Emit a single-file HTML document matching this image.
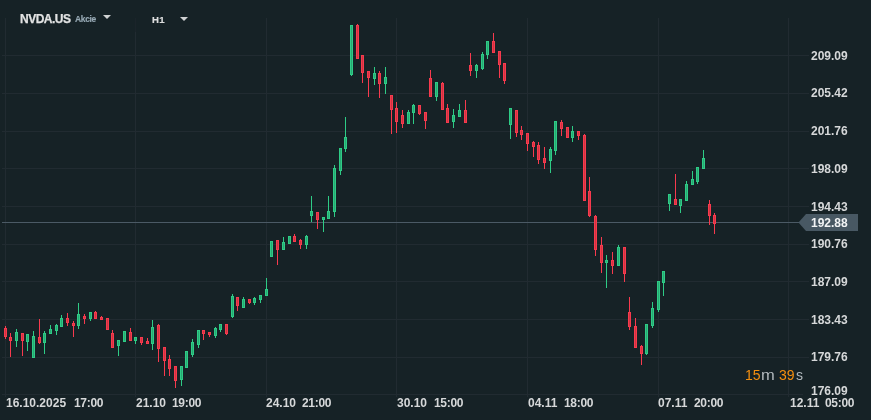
<!DOCTYPE html>
<html><head><meta charset="utf-8"><style>
html,body{margin:0;padding:0;}
body{width:871px;height:420px;overflow:hidden;background:#162226;position:relative;font-family:"Liberation Sans",Arial,sans-serif;}
svg{position:absolute;left:0;top:0;}
div{will-change:transform;}
.pl,.tl,#cur{font-weight:bold;}
.pl{position:absolute;left:810.5px;font-size:12px;line-height:14px;color:#d6d8d9;white-space:nowrap;}
.tl{position:absolute;top:396px;font-size:12px;line-height:14px;color:#d6d8d9;white-space:nowrap;}
.tt{letter-spacing:-0.3px;}
#sym{position:absolute;left:20px;top:11.5px;font-size:12px;letter-spacing:-0.5px;line-height:14px;font-weight:bold;-webkit-text-stroke:0.25px #e2e3e3;color:#e2e3e3;white-space:nowrap;}
#ak{position:absolute;left:74.7px;top:14px;font-size:8.5px;letter-spacing:-0.35px;line-height:10px;font-weight:bold;color:#96a8b3;-webkit-text-stroke:0.15px #96a8b3;}
#tf{position:absolute;left:152.3px;top:14.3px;font-size:9.6px;letter-spacing:0.2px;line-height:11px;font-weight:bold;color:#dcdddd;-webkit-text-stroke:0.2px #dcdddd;}
#cur{position:absolute;left:810.5px;top:215.5px;font-size:12px;line-height:14px;color:#f2f4f5;}
.cd{position:absolute;top:367px;font-size:14px;line-height:16px;white-space:nowrap;}
.o{color:#f58f0f;} .g{color:#b2b9bd;}
</style></head><body>
<svg width="871" height="420" viewBox="0 0 871 420" shape-rendering="crispEdges">
<rect x="2" y="55" width="807" height="1" fill="#212b31"/>
<rect x="2" y="93" width="807" height="1" fill="#212b31"/>
<rect x="2" y="131" width="807" height="1" fill="#212b31"/>
<rect x="2" y="168" width="807" height="1" fill="#212b31"/>
<rect x="2" y="206" width="807" height="1" fill="#212b31"/>
<rect x="2" y="244" width="807" height="1" fill="#212b31"/>
<rect x="2" y="281" width="807" height="1" fill="#212b31"/>
<rect x="2" y="319" width="807" height="1" fill="#212b31"/>
<rect x="2" y="357" width="807" height="1" fill="#212b31"/>
<rect x="2" y="394" width="801" height="1" fill="#212b31"/>
<rect x="5" y="18" width="1" height="379" fill="#212b31"/>
<rect x="135" y="32" width="1" height="365" fill="#212b31"/>
<rect x="266" y="18" width="1" height="379" fill="#212b31"/>
<rect x="396" y="18" width="1" height="379" fill="#212b31"/>
<rect x="527" y="18" width="1" height="379" fill="#212b31"/>
<rect x="658" y="18" width="1" height="379" fill="#212b31"/>
<rect x="788" y="18" width="1" height="379" fill="#212b31"/>
<rect x="135" y="18" width="1" height="14" fill="#1b242a"/>
<rect x="2" y="222" width="797" height="1" fill="#4b5a65"/>
<rect x="5" y="326" width="1" height="13" fill="#f83a4e"/>
<rect x="4" y="328" width="3" height="9" fill="#f83a4e"/>
<rect x="5" y="329" width="1" height="7" fill="#d03441"/>
<rect x="10" y="333" width="1" height="24" fill="#f83a4e"/>
<rect x="9" y="337" width="3" height="4" fill="#f83a4e"/>
<rect x="10" y="338" width="1" height="2" fill="#d03441"/>
<rect x="16" y="329" width="1" height="18" fill="#2ecc86"/>
<rect x="15" y="332" width="3" height="9" fill="#2ecc86"/>
<rect x="16" y="333" width="1" height="7" fill="#28a873"/>
<rect x="22" y="333" width="1" height="23" fill="#f83a4e"/>
<rect x="21" y="333" width="3" height="8" fill="#f83a4e"/>
<rect x="22" y="334" width="1" height="6" fill="#d03441"/>
<rect x="27" y="334" width="1" height="17" fill="#2ecc86"/>
<rect x="26" y="334" width="3" height="8" fill="#2ecc86"/>
<rect x="27" y="335" width="1" height="6" fill="#28a873"/>
<rect x="33" y="331" width="1" height="27" fill="#2ecc86"/>
<rect x="32" y="336" width="3" height="22" fill="#2ecc86"/>
<rect x="33" y="337" width="1" height="20" fill="#28a873"/>
<rect x="39" y="319" width="1" height="25" fill="#f83a4e"/>
<rect x="38" y="337" width="3" height="6" fill="#f83a4e"/>
<rect x="39" y="338" width="1" height="4" fill="#d03441"/>
<rect x="44" y="331" width="1" height="23" fill="#2ecc86"/>
<rect x="43" y="333" width="3" height="10" fill="#2ecc86"/>
<rect x="44" y="334" width="1" height="8" fill="#28a873"/>
<rect x="50" y="325" width="1" height="9" fill="#2ecc86"/>
<rect x="49" y="329" width="3" height="5" fill="#2ecc86"/>
<rect x="50" y="330" width="1" height="3" fill="#28a873"/>
<rect x="56" y="324" width="1" height="11" fill="#2ecc86"/>
<rect x="55" y="325" width="3" height="6" fill="#2ecc86"/>
<rect x="56" y="326" width="1" height="4" fill="#28a873"/>
<rect x="61" y="315" width="1" height="12" fill="#2ecc86"/>
<rect x="60" y="318" width="3" height="9" fill="#2ecc86"/>
<rect x="61" y="319" width="1" height="7" fill="#28a873"/>
<rect x="67" y="313" width="1" height="13" fill="#f83a4e"/>
<rect x="66" y="318" width="3" height="5" fill="#f83a4e"/>
<rect x="67" y="319" width="1" height="3" fill="#d03441"/>
<rect x="73" y="321" width="1" height="16" fill="#f83a4e"/>
<rect x="72" y="323" width="3" height="3" fill="#f83a4e"/>
<rect x="73" y="324" width="1" height="1" fill="#d03441"/>
<rect x="78" y="303" width="1" height="26" fill="#2ecc86"/>
<rect x="77" y="314" width="3" height="12" fill="#2ecc86"/>
<rect x="78" y="315" width="1" height="10" fill="#28a873"/>
<rect x="84" y="314" width="1" height="10" fill="#f83a4e"/>
<rect x="83" y="316" width="3" height="3" fill="#f83a4e"/>
<rect x="84" y="317" width="1" height="1" fill="#d03441"/>
<rect x="90" y="312" width="1" height="9" fill="#2ecc86"/>
<rect x="89" y="312" width="3" height="7" fill="#2ecc86"/>
<rect x="90" y="313" width="1" height="5" fill="#28a873"/>
<rect x="95" y="311" width="1" height="8" fill="#f83a4e"/>
<rect x="94" y="312" width="3" height="7" fill="#f83a4e"/>
<rect x="95" y="313" width="1" height="5" fill="#d03441"/>
<rect x="101" y="316" width="1" height="4" fill="#f83a4e"/>
<rect x="100" y="317" width="3" height="3" fill="#f83a4e"/>
<rect x="101" y="318" width="1" height="1" fill="#d03441"/>
<rect x="107" y="318" width="1" height="12" fill="#f83a4e"/>
<rect x="106" y="318" width="3" height="12" fill="#f83a4e"/>
<rect x="107" y="319" width="1" height="10" fill="#d03441"/>
<rect x="112" y="330" width="1" height="18" fill="#f83a4e"/>
<rect x="111" y="333" width="3" height="15" fill="#f83a4e"/>
<rect x="112" y="334" width="1" height="13" fill="#d03441"/>
<rect x="118" y="340" width="1" height="16" fill="#2ecc86"/>
<rect x="117" y="340" width="3" height="6" fill="#2ecc86"/>
<rect x="118" y="341" width="1" height="4" fill="#28a873"/>
<rect x="124" y="331" width="1" height="11" fill="#2ecc86"/>
<rect x="123" y="331" width="3" height="11" fill="#2ecc86"/>
<rect x="124" y="332" width="1" height="9" fill="#28a873"/>
<rect x="130" y="328" width="1" height="13" fill="#f83a4e"/>
<rect x="129" y="332" width="3" height="9" fill="#f83a4e"/>
<rect x="130" y="333" width="1" height="7" fill="#d03441"/>
<rect x="135" y="337" width="1" height="7" fill="#2ecc86"/>
<rect x="134" y="337" width="3" height="4" fill="#2ecc86"/>
<rect x="135" y="338" width="1" height="2" fill="#28a873"/>
<rect x="141" y="337" width="1" height="8" fill="#f83a4e"/>
<rect x="140" y="337" width="3" height="6" fill="#f83a4e"/>
<rect x="141" y="338" width="1" height="4" fill="#d03441"/>
<rect x="147" y="338" width="1" height="6" fill="#f83a4e"/>
<rect x="146" y="341" width="3" height="3" fill="#f83a4e"/>
<rect x="147" y="342" width="1" height="1" fill="#d03441"/>
<rect x="152" y="320" width="1" height="30" fill="#2ecc86"/>
<rect x="151" y="327" width="3" height="17" fill="#2ecc86"/>
<rect x="152" y="328" width="1" height="15" fill="#28a873"/>
<rect x="158" y="324" width="1" height="38" fill="#f83a4e"/>
<rect x="157" y="325" width="3" height="24" fill="#f83a4e"/>
<rect x="158" y="326" width="1" height="22" fill="#d03441"/>
<rect x="164" y="347" width="1" height="29" fill="#f83a4e"/>
<rect x="163" y="347" width="3" height="14" fill="#f83a4e"/>
<rect x="164" y="348" width="1" height="12" fill="#d03441"/>
<rect x="169" y="355" width="1" height="21" fill="#f83a4e"/>
<rect x="168" y="359" width="3" height="10" fill="#f83a4e"/>
<rect x="169" y="360" width="1" height="8" fill="#d03441"/>
<rect x="175" y="366" width="1" height="22" fill="#f83a4e"/>
<rect x="174" y="366" width="3" height="15" fill="#f83a4e"/>
<rect x="175" y="367" width="1" height="13" fill="#d03441"/>
<rect x="181" y="366" width="1" height="20" fill="#2ecc86"/>
<rect x="180" y="366" width="3" height="14" fill="#2ecc86"/>
<rect x="181" y="367" width="1" height="12" fill="#28a873"/>
<rect x="186" y="351" width="1" height="17" fill="#2ecc86"/>
<rect x="185" y="351" width="3" height="17" fill="#2ecc86"/>
<rect x="186" y="352" width="1" height="15" fill="#28a873"/>
<rect x="192" y="339" width="1" height="18" fill="#2ecc86"/>
<rect x="191" y="342" width="3" height="13" fill="#2ecc86"/>
<rect x="192" y="343" width="1" height="11" fill="#28a873"/>
<rect x="198" y="330" width="1" height="18" fill="#2ecc86"/>
<rect x="197" y="330" width="3" height="15" fill="#2ecc86"/>
<rect x="198" y="331" width="1" height="13" fill="#28a873"/>
<rect x="203" y="330" width="1" height="10" fill="#f83a4e"/>
<rect x="202" y="330" width="3" height="4" fill="#f83a4e"/>
<rect x="203" y="331" width="1" height="2" fill="#d03441"/>
<rect x="209" y="332" width="1" height="5" fill="#f83a4e"/>
<rect x="208" y="332" width="3" height="3" fill="#f83a4e"/>
<rect x="209" y="333" width="1" height="1" fill="#d03441"/>
<rect x="215" y="327" width="1" height="11" fill="#2ecc86"/>
<rect x="214" y="328" width="3" height="8" fill="#2ecc86"/>
<rect x="215" y="329" width="1" height="6" fill="#28a873"/>
<rect x="220" y="324" width="1" height="8" fill="#2ecc86"/>
<rect x="219" y="324" width="3" height="6" fill="#2ecc86"/>
<rect x="220" y="325" width="1" height="4" fill="#28a873"/>
<rect x="226" y="324" width="1" height="11" fill="#f83a4e"/>
<rect x="225" y="324" width="3" height="10" fill="#f83a4e"/>
<rect x="226" y="325" width="1" height="8" fill="#d03441"/>
<rect x="232" y="294" width="1" height="24" fill="#2ecc86"/>
<rect x="231" y="296" width="3" height="21" fill="#2ecc86"/>
<rect x="232" y="297" width="1" height="19" fill="#28a873"/>
<rect x="237" y="297" width="1" height="14" fill="#f83a4e"/>
<rect x="236" y="297" width="3" height="9" fill="#f83a4e"/>
<rect x="237" y="298" width="1" height="7" fill="#d03441"/>
<rect x="243" y="297" width="1" height="11" fill="#2ecc86"/>
<rect x="242" y="299" width="3" height="9" fill="#2ecc86"/>
<rect x="243" y="300" width="1" height="7" fill="#28a873"/>
<rect x="249" y="299" width="1" height="5" fill="#f83a4e"/>
<rect x="248" y="299" width="3" height="4" fill="#f83a4e"/>
<rect x="249" y="300" width="1" height="2" fill="#d03441"/>
<rect x="254" y="297" width="1" height="8" fill="#2ecc86"/>
<rect x="253" y="298" width="3" height="5" fill="#2ecc86"/>
<rect x="254" y="299" width="1" height="3" fill="#28a873"/>
<rect x="260" y="295" width="1" height="8" fill="#2ecc86"/>
<rect x="259" y="295" width="3" height="5" fill="#2ecc86"/>
<rect x="260" y="296" width="1" height="3" fill="#28a873"/>
<rect x="266" y="278" width="1" height="18" fill="#2ecc86"/>
<rect x="265" y="289" width="3" height="7" fill="#2ecc86"/>
<rect x="266" y="290" width="1" height="5" fill="#28a873"/>
<rect x="271" y="241" width="1" height="16" fill="#2ecc86"/>
<rect x="270" y="241" width="3" height="16" fill="#2ecc86"/>
<rect x="271" y="242" width="1" height="14" fill="#28a873"/>
<rect x="277" y="240" width="1" height="25" fill="#f83a4e"/>
<rect x="276" y="240" width="3" height="10" fill="#f83a4e"/>
<rect x="277" y="241" width="1" height="8" fill="#d03441"/>
<rect x="283" y="237" width="1" height="13" fill="#2ecc86"/>
<rect x="282" y="242" width="3" height="8" fill="#2ecc86"/>
<rect x="283" y="243" width="1" height="6" fill="#28a873"/>
<rect x="289" y="236" width="1" height="8" fill="#2ecc86"/>
<rect x="288" y="236" width="3" height="8" fill="#2ecc86"/>
<rect x="289" y="237" width="1" height="6" fill="#28a873"/>
<rect x="294" y="234" width="1" height="8" fill="#f83a4e"/>
<rect x="293" y="236" width="3" height="6" fill="#f83a4e"/>
<rect x="294" y="237" width="1" height="4" fill="#d03441"/>
<rect x="300" y="239" width="1" height="10" fill="#f83a4e"/>
<rect x="299" y="240" width="3" height="5" fill="#f83a4e"/>
<rect x="300" y="241" width="1" height="3" fill="#d03441"/>
<rect x="306" y="235" width="1" height="14" fill="#2ecc86"/>
<rect x="305" y="236" width="3" height="9" fill="#2ecc86"/>
<rect x="306" y="237" width="1" height="7" fill="#28a873"/>
<rect x="311" y="196" width="1" height="26" fill="#2ecc86"/>
<rect x="310" y="211" width="3" height="5" fill="#2ecc86"/>
<rect x="311" y="212" width="1" height="3" fill="#28a873"/>
<rect x="317" y="212" width="1" height="17" fill="#f83a4e"/>
<rect x="316" y="212" width="3" height="8" fill="#f83a4e"/>
<rect x="317" y="213" width="1" height="6" fill="#d03441"/>
<rect x="323" y="217" width="1" height="15" fill="#2ecc86"/>
<rect x="322" y="217" width="3" height="3" fill="#2ecc86"/>
<rect x="323" y="218" width="1" height="1" fill="#28a873"/>
<rect x="328" y="196" width="1" height="23" fill="#2ecc86"/>
<rect x="327" y="211" width="3" height="8" fill="#2ecc86"/>
<rect x="328" y="212" width="1" height="6" fill="#28a873"/>
<rect x="334" y="165" width="1" height="52" fill="#2ecc86"/>
<rect x="333" y="168" width="3" height="44" fill="#2ecc86"/>
<rect x="334" y="169" width="1" height="42" fill="#28a873"/>
<rect x="340" y="148" width="1" height="27" fill="#2ecc86"/>
<rect x="339" y="148" width="3" height="23" fill="#2ecc86"/>
<rect x="340" y="149" width="1" height="21" fill="#28a873"/>
<rect x="345" y="117" width="1" height="35" fill="#2ecc86"/>
<rect x="344" y="137" width="3" height="12" fill="#2ecc86"/>
<rect x="345" y="138" width="1" height="10" fill="#28a873"/>
<rect x="351" y="25" width="1" height="51" fill="#2ecc86"/>
<rect x="350" y="25" width="3" height="50" fill="#2ecc86"/>
<rect x="351" y="26" width="1" height="48" fill="#28a873"/>
<rect x="357" y="24" width="1" height="35" fill="#f83a4e"/>
<rect x="356" y="25" width="3" height="34" fill="#f83a4e"/>
<rect x="357" y="26" width="1" height="32" fill="#d03441"/>
<rect x="362" y="55" width="1" height="28" fill="#f83a4e"/>
<rect x="361" y="55" width="3" height="18" fill="#f83a4e"/>
<rect x="362" y="56" width="1" height="16" fill="#d03441"/>
<rect x="368" y="71" width="1" height="26" fill="#f83a4e"/>
<rect x="367" y="71" width="3" height="7" fill="#f83a4e"/>
<rect x="368" y="72" width="1" height="5" fill="#d03441"/>
<rect x="374" y="67" width="1" height="18" fill="#2ecc86"/>
<rect x="373" y="73" width="3" height="6" fill="#2ecc86"/>
<rect x="374" y="74" width="1" height="4" fill="#28a873"/>
<rect x="379" y="71" width="1" height="27" fill="#f83a4e"/>
<rect x="378" y="73" width="3" height="11" fill="#f83a4e"/>
<rect x="379" y="74" width="1" height="9" fill="#d03441"/>
<rect x="385" y="67" width="1" height="27" fill="#2ecc86"/>
<rect x="384" y="77" width="3" height="7" fill="#2ecc86"/>
<rect x="385" y="78" width="1" height="5" fill="#28a873"/>
<rect x="391" y="95" width="1" height="39" fill="#f83a4e"/>
<rect x="390" y="95" width="3" height="15" fill="#f83a4e"/>
<rect x="391" y="96" width="1" height="13" fill="#d03441"/>
<rect x="396" y="102" width="1" height="31" fill="#f83a4e"/>
<rect x="395" y="108" width="3" height="14" fill="#f83a4e"/>
<rect x="396" y="109" width="1" height="12" fill="#d03441"/>
<rect x="402" y="110" width="1" height="18" fill="#f83a4e"/>
<rect x="401" y="115" width="3" height="9" fill="#f83a4e"/>
<rect x="402" y="116" width="1" height="7" fill="#d03441"/>
<rect x="408" y="110" width="1" height="14" fill="#2ecc86"/>
<rect x="407" y="112" width="3" height="12" fill="#2ecc86"/>
<rect x="408" y="113" width="1" height="10" fill="#28a873"/>
<rect x="413" y="104" width="1" height="20" fill="#2ecc86"/>
<rect x="412" y="105" width="3" height="8" fill="#2ecc86"/>
<rect x="413" y="106" width="1" height="6" fill="#28a873"/>
<rect x="419" y="105" width="1" height="10" fill="#f83a4e"/>
<rect x="418" y="105" width="3" height="9" fill="#f83a4e"/>
<rect x="419" y="106" width="1" height="7" fill="#d03441"/>
<rect x="425" y="112" width="1" height="17" fill="#f83a4e"/>
<rect x="424" y="112" width="3" height="9" fill="#f83a4e"/>
<rect x="425" y="113" width="1" height="7" fill="#d03441"/>
<rect x="430" y="70" width="1" height="27" fill="#f83a4e"/>
<rect x="429" y="78" width="3" height="19" fill="#f83a4e"/>
<rect x="430" y="79" width="1" height="17" fill="#d03441"/>
<rect x="436" y="82" width="1" height="19" fill="#2ecc86"/>
<rect x="435" y="82" width="3" height="15" fill="#2ecc86"/>
<rect x="436" y="83" width="1" height="13" fill="#28a873"/>
<rect x="442" y="82" width="1" height="28" fill="#f83a4e"/>
<rect x="441" y="83" width="3" height="27" fill="#f83a4e"/>
<rect x="442" y="84" width="1" height="25" fill="#d03441"/>
<rect x="447" y="104" width="1" height="19" fill="#f83a4e"/>
<rect x="446" y="108" width="3" height="15" fill="#f83a4e"/>
<rect x="447" y="109" width="1" height="13" fill="#d03441"/>
<rect x="453" y="109" width="1" height="19" fill="#2ecc86"/>
<rect x="452" y="115" width="3" height="7" fill="#2ecc86"/>
<rect x="453" y="116" width="1" height="5" fill="#28a873"/>
<rect x="459" y="104" width="1" height="13" fill="#2ecc86"/>
<rect x="458" y="110" width="3" height="7" fill="#2ecc86"/>
<rect x="459" y="111" width="1" height="5" fill="#28a873"/>
<rect x="465" y="100" width="1" height="23" fill="#f83a4e"/>
<rect x="464" y="110" width="3" height="13" fill="#f83a4e"/>
<rect x="465" y="111" width="1" height="11" fill="#d03441"/>
<rect x="470" y="53" width="1" height="23" fill="#f83a4e"/>
<rect x="469" y="65" width="3" height="6" fill="#f83a4e"/>
<rect x="470" y="66" width="1" height="4" fill="#d03441"/>
<rect x="476" y="64" width="1" height="14" fill="#2ecc86"/>
<rect x="475" y="65" width="3" height="6" fill="#2ecc86"/>
<rect x="476" y="66" width="1" height="4" fill="#28a873"/>
<rect x="482" y="52" width="1" height="18" fill="#2ecc86"/>
<rect x="481" y="54" width="3" height="15" fill="#2ecc86"/>
<rect x="482" y="55" width="1" height="13" fill="#28a873"/>
<rect x="487" y="41" width="1" height="18" fill="#2ecc86"/>
<rect x="486" y="41" width="3" height="14" fill="#2ecc86"/>
<rect x="487" y="42" width="1" height="12" fill="#28a873"/>
<rect x="493" y="33" width="1" height="20" fill="#f83a4e"/>
<rect x="492" y="41" width="3" height="12" fill="#f83a4e"/>
<rect x="493" y="42" width="1" height="10" fill="#d03441"/>
<rect x="499" y="51" width="1" height="27" fill="#f83a4e"/>
<rect x="498" y="51" width="3" height="14" fill="#f83a4e"/>
<rect x="499" y="52" width="1" height="12" fill="#d03441"/>
<rect x="504" y="63" width="1" height="21" fill="#f83a4e"/>
<rect x="503" y="63" width="3" height="18" fill="#f83a4e"/>
<rect x="504" y="64" width="1" height="16" fill="#d03441"/>
<rect x="510" y="108" width="1" height="31" fill="#2ecc86"/>
<rect x="509" y="108" width="3" height="17" fill="#2ecc86"/>
<rect x="510" y="109" width="1" height="15" fill="#28a873"/>
<rect x="516" y="110" width="1" height="27" fill="#f83a4e"/>
<rect x="515" y="110" width="3" height="23" fill="#f83a4e"/>
<rect x="516" y="111" width="1" height="21" fill="#d03441"/>
<rect x="521" y="126" width="1" height="14" fill="#f83a4e"/>
<rect x="520" y="130" width="3" height="5" fill="#f83a4e"/>
<rect x="521" y="131" width="1" height="3" fill="#d03441"/>
<rect x="527" y="133" width="1" height="18" fill="#f83a4e"/>
<rect x="526" y="133" width="3" height="11" fill="#f83a4e"/>
<rect x="527" y="134" width="1" height="9" fill="#d03441"/>
<rect x="533" y="141" width="1" height="16" fill="#f83a4e"/>
<rect x="532" y="142" width="3" height="5" fill="#f83a4e"/>
<rect x="533" y="143" width="1" height="3" fill="#d03441"/>
<rect x="538" y="142" width="1" height="22" fill="#f83a4e"/>
<rect x="537" y="145" width="3" height="15" fill="#f83a4e"/>
<rect x="538" y="146" width="1" height="13" fill="#d03441"/>
<rect x="544" y="147" width="1" height="22" fill="#f83a4e"/>
<rect x="543" y="158" width="3" height="5" fill="#f83a4e"/>
<rect x="544" y="159" width="1" height="3" fill="#d03441"/>
<rect x="550" y="147" width="1" height="26" fill="#2ecc86"/>
<rect x="549" y="149" width="3" height="12" fill="#2ecc86"/>
<rect x="550" y="150" width="1" height="10" fill="#28a873"/>
<rect x="555" y="121" width="1" height="34" fill="#2ecc86"/>
<rect x="554" y="121" width="3" height="30" fill="#2ecc86"/>
<rect x="555" y="122" width="1" height="28" fill="#28a873"/>
<rect x="561" y="120" width="1" height="16" fill="#f83a4e"/>
<rect x="560" y="122" width="3" height="7" fill="#f83a4e"/>
<rect x="561" y="123" width="1" height="5" fill="#d03441"/>
<rect x="567" y="127" width="1" height="11" fill="#f83a4e"/>
<rect x="566" y="127" width="3" height="11" fill="#f83a4e"/>
<rect x="567" y="128" width="1" height="9" fill="#d03441"/>
<rect x="572" y="126" width="1" height="16" fill="#2ecc86"/>
<rect x="571" y="131" width="3" height="7" fill="#2ecc86"/>
<rect x="572" y="132" width="1" height="5" fill="#28a873"/>
<rect x="578" y="131" width="1" height="9" fill="#f83a4e"/>
<rect x="577" y="131" width="3" height="5" fill="#f83a4e"/>
<rect x="578" y="132" width="1" height="3" fill="#d03441"/>
<rect x="584" y="134" width="1" height="67" fill="#f83a4e"/>
<rect x="583" y="135" width="3" height="66" fill="#f83a4e"/>
<rect x="584" y="136" width="1" height="64" fill="#d03441"/>
<rect x="589" y="177" width="1" height="40" fill="#f83a4e"/>
<rect x="588" y="191" width="3" height="25" fill="#f83a4e"/>
<rect x="589" y="192" width="1" height="23" fill="#d03441"/>
<rect x="595" y="215" width="1" height="41" fill="#f83a4e"/>
<rect x="594" y="216" width="3" height="34" fill="#f83a4e"/>
<rect x="595" y="217" width="1" height="32" fill="#d03441"/>
<rect x="601" y="237" width="1" height="36" fill="#f83a4e"/>
<rect x="600" y="245" width="3" height="18" fill="#f83a4e"/>
<rect x="601" y="246" width="1" height="16" fill="#d03441"/>
<rect x="606" y="255" width="1" height="33" fill="#2ecc86"/>
<rect x="605" y="260" width="3" height="3" fill="#2ecc86"/>
<rect x="606" y="261" width="1" height="1" fill="#28a873"/>
<rect x="612" y="252" width="1" height="22" fill="#f83a4e"/>
<rect x="611" y="260" width="3" height="6" fill="#f83a4e"/>
<rect x="612" y="261" width="1" height="4" fill="#d03441"/>
<rect x="618" y="245" width="1" height="21" fill="#2ecc86"/>
<rect x="617" y="247" width="3" height="19" fill="#2ecc86"/>
<rect x="618" y="248" width="1" height="17" fill="#28a873"/>
<rect x="624" y="247" width="1" height="35" fill="#f83a4e"/>
<rect x="623" y="247" width="3" height="27" fill="#f83a4e"/>
<rect x="624" y="248" width="1" height="25" fill="#d03441"/>
<rect x="629" y="297" width="1" height="33" fill="#f83a4e"/>
<rect x="628" y="312" width="3" height="15" fill="#f83a4e"/>
<rect x="629" y="313" width="1" height="13" fill="#d03441"/>
<rect x="635" y="318" width="1" height="30" fill="#f83a4e"/>
<rect x="634" y="326" width="3" height="22" fill="#f83a4e"/>
<rect x="635" y="327" width="1" height="20" fill="#d03441"/>
<rect x="641" y="345" width="1" height="20" fill="#f83a4e"/>
<rect x="640" y="346" width="3" height="8" fill="#f83a4e"/>
<rect x="641" y="347" width="1" height="6" fill="#d03441"/>
<rect x="646" y="324" width="1" height="31" fill="#2ecc86"/>
<rect x="645" y="324" width="3" height="30" fill="#2ecc86"/>
<rect x="646" y="325" width="1" height="28" fill="#28a873"/>
<rect x="652" y="302" width="1" height="26" fill="#2ecc86"/>
<rect x="651" y="308" width="3" height="18" fill="#2ecc86"/>
<rect x="652" y="309" width="1" height="16" fill="#28a873"/>
<rect x="658" y="281" width="1" height="31" fill="#2ecc86"/>
<rect x="657" y="281" width="3" height="29" fill="#2ecc86"/>
<rect x="658" y="282" width="1" height="27" fill="#28a873"/>
<rect x="663" y="271" width="1" height="25" fill="#2ecc86"/>
<rect x="662" y="271" width="3" height="12" fill="#2ecc86"/>
<rect x="663" y="272" width="1" height="10" fill="#28a873"/>
<rect x="669" y="194" width="1" height="17" fill="#2ecc86"/>
<rect x="668" y="194" width="3" height="10" fill="#2ecc86"/>
<rect x="669" y="195" width="1" height="8" fill="#28a873"/>
<rect x="675" y="174" width="1" height="31" fill="#f83a4e"/>
<rect x="674" y="199" width="3" height="6" fill="#f83a4e"/>
<rect x="675" y="200" width="1" height="4" fill="#d03441"/>
<rect x="680" y="199" width="1" height="14" fill="#2ecc86"/>
<rect x="679" y="199" width="3" height="7" fill="#2ecc86"/>
<rect x="680" y="200" width="1" height="5" fill="#28a873"/>
<rect x="686" y="181" width="1" height="20" fill="#2ecc86"/>
<rect x="685" y="184" width="3" height="17" fill="#2ecc86"/>
<rect x="686" y="185" width="1" height="15" fill="#28a873"/>
<rect x="692" y="171" width="1" height="14" fill="#2ecc86"/>
<rect x="691" y="179" width="3" height="6" fill="#2ecc86"/>
<rect x="692" y="180" width="1" height="4" fill="#28a873"/>
<rect x="697" y="167" width="1" height="17" fill="#2ecc86"/>
<rect x="696" y="167" width="3" height="15" fill="#2ecc86"/>
<rect x="697" y="168" width="1" height="13" fill="#28a873"/>
<rect x="703" y="150" width="1" height="19" fill="#2ecc86"/>
<rect x="702" y="158" width="3" height="11" fill="#2ecc86"/>
<rect x="703" y="159" width="1" height="9" fill="#28a873"/>
<rect x="709" y="200" width="1" height="25" fill="#f83a4e"/>
<rect x="708" y="204" width="3" height="12" fill="#f83a4e"/>
<rect x="709" y="205" width="1" height="10" fill="#d03441"/>
<rect x="714" y="213" width="1" height="21" fill="#f83a4e"/>
<rect x="713" y="215" width="3" height="9" fill="#f83a4e"/>
<rect x="714" y="216" width="1" height="7" fill="#d03441"/>
<polygon points="798.5,222.5 806,214 858,214 858,231 806,231" fill="#485863" shape-rendering="auto"/>
<polygon points="103,15 111,15 107,19" fill="#d0d2d3" shape-rendering="auto"/>
<polygon points="180,17 188,17 184,21" fill="#d0d2d3" shape-rendering="auto"/>
</svg>
<div id="sym">NVDA.US</div><div id="ak">Akcie</div><div id="tf">H1</div>
<div class="pl" style="top:49px">209.09</div>
<div class="pl" style="top:86px">205.42</div>
<div class="pl" style="top:124px">201.76</div>
<div class="pl" style="top:162px">198.09</div>
<div class="pl" style="top:200px">194.43</div>
<div class="pl" style="top:237px">190.76</div>
<div class="pl" style="top:275px">187.09</div>
<div class="pl" style="top:313px">183.43</div>
<div class="pl" style="top:350px">179.76</div>
<div class="pl" style="top:383.7px">176.09</div>
<div class="tl" style="left:6.1px">16.10.2025</div><div class="tl tt" style="left:74.0px">17:00</div>
<div class="tl" style="left:136.0px">21.10</div><div class="tl tt" style="left:171.9px">19:00</div>
<div class="tl" style="left:266.4px">24.10</div><div class="tl tt" style="left:302.4px">21:00</div>
<div class="tl" style="left:397.0px">30.10</div><div class="tl tt" style="left:433.9px">15:00</div>
<div class="tl" style="left:527.7px">04.11</div><div class="tl tt" style="left:564.2px">18:00</div>
<div class="tl" style="left:658.2px">07.11</div><div class="tl tt" style="left:693.9px">20:00</div>
<div class="tl" style="left:789.5px">12.11</div><div class="tl tt" style="left:824.7px">05:00</div>
<div id="cur">192.88</div>
<div class="cd o" style="left:745px">15</div><div class="cd g" style="left:760.5px;transform:scaleX(1.18);transform-origin:0 0">m</div><div class="cd o" style="left:778.5px">39</div><div class="cd g" style="left:795.5px">s</div>
</body></html>
